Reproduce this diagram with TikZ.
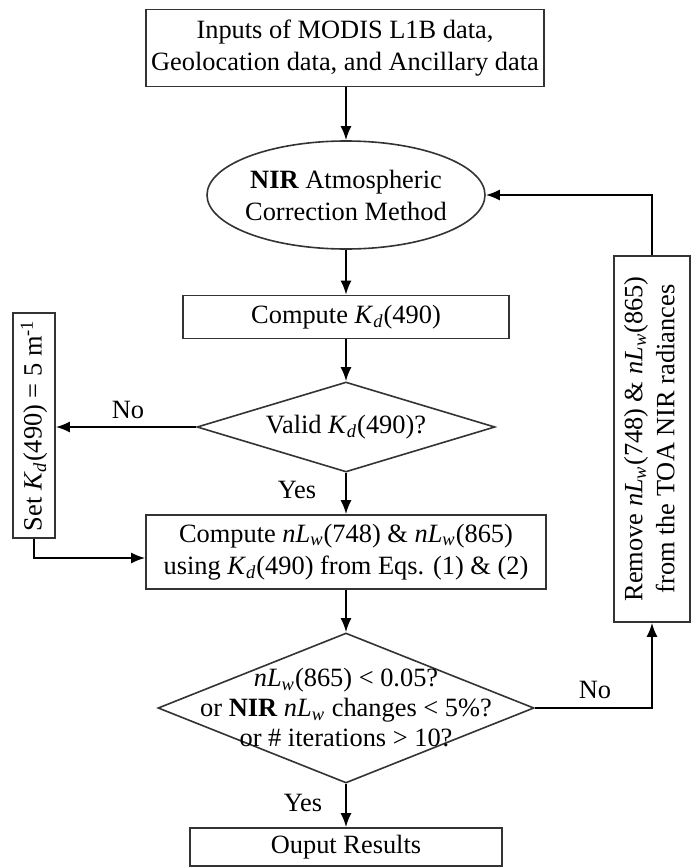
\documentclass[tikz,border=0pt]{standalone}
\usepackage{fontspec}
\setmainfont{Liberation Serif}
\usetikzlibrary{shapes.geometric,arrows.meta}
\newcommand{\Kd}{\textit{K}\textsubscript{\textit{d}}}
\newcommand{\nLw}{\textit{nL}\textsubscript{\textit{w}}}
\begin{document}
\begin{tikzpicture}[x=0.5pt,y=-0.5pt,
  font=\fontsize{13.2}{16}\selectfont,
  box/.style={draw=black!80, line width=0.8pt, fill=white, inner sep=0pt, align=center},
  link/.style={line width=1pt, -{Latex[length=7pt,width=5.5pt]}},
  lab/.style={inner sep=0pt}]
\fill[white] (0,0) rectangle (691,868);
\useasboundingbox (0,0) rectangle (691,868);

\node[box, minimum width=199pt, minimum height=38.5pt] (inp) at (345,48)
  {Inputs of MODIS L1B data,\\Geolocation data, and Ancillary data};
\node[box, ellipse, minimum width=139pt, minimum height=54pt,
  label={[align=center]center:\textbf{NIR} Atmospheric\\Correction Method}] (nir) at (346,195) {};
\node[box, minimum width=163pt, minimum height=21.5pt] (kd) at (346,317) {Compute \Kd(490)};
\node[box, diamond, minimum width=149pt, minimum height=45pt,
  label={center:Valid \Kd(490)?}] (valid) at (346,427) {};
\node[box, minimum width=21pt, minimum height=112.5pt] (set) at (34,425.5)
  {\rotatebox{90}{Set \Kd(490) = 5 m\textsuperscript{-1}}};
\node[box, minimum width=200pt, minimum height=37pt] (nlw) at (346,552)
  {Compute \nLw(748) \& \nLw(865)\\using \Kd(490) from Eqs. (1) \& (2)};
\node[box, diamond, minimum width=188pt, minimum height=75pt,
  label={[align=center, font=\fontsize{13.2}{15}\selectfont]center:\nLw(865) < 0.05?\\or \textbf{NIR} \nLw{} changes < 5\%?\\or \# iterations > 10?}] (chk) at (346,708) {};
\node[box, minimum width=156pt, minimum height=19pt] (out) at (346,847) {Ouput Results};
\node[box, minimum width=38pt, minimum height=183pt] (rem) at (652,439)
  {\rotatebox{90}{\begin{tabular}{@{}c@{}}Remove \nLw(748) \& \nLw(865)\\from the TOA NIR radiances\end{tabular}}};

\draw[link] (inp.south -| nir.north) -- (nir.north);
\draw[link] (nir) -- (kd);
\draw[link] (kd) -- (valid);
\draw[link] (valid.west) -- (valid.west -| set.east);
\draw[link] (valid) -- (nlw);
\draw[link] (set.south) |- ([yshift=-3pt]nlw.west);
\draw[link] (nlw) -- (chk);
\draw[link] (chk) -- (out);
\draw[link] (chk.east) -| (rem.south);
\draw[link] (rem.north) |- (nir.east);

\node[lab] (no1) at (128,410) {No};
\node[lab] (yes1) at (297,490) {Yes};
\node[lab] (no2) at (595,690) {No};
\node[lab] (yes2) at (303,803) {Yes};
\end{tikzpicture}
\end{document}
